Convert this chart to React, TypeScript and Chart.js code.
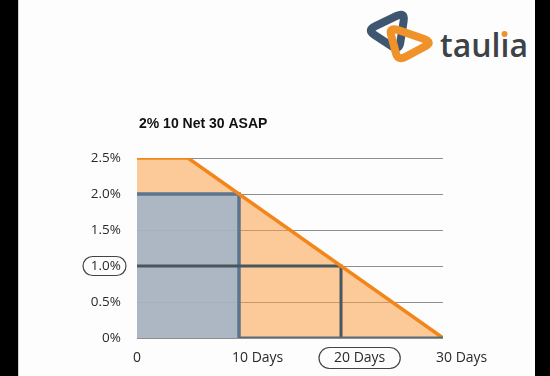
import React, { useEffect, useRef } from "react";
import { Chart, registerables } from "chart.js";

Chart.register(...registerables);

const chartTitle = "2% 10 Net 30 ASAP";
const discountDays = [0, 5, 30];
const discountRate = [2.5, 2.5, 0];
const earlyDays = [0, 10, 10];
const earlyRate = [2.0, 2.0, 0];
const midDays = [0, 20, 20];
const midRate = [1.0, 1.0, 0];
const baseDays = [10, 30];
const baseRate = [0, 0];
const xTickValues = [0, 10, 20, 30];
const xTickLabels = ["0", "10 Days", "20 Days", "30 Days"];
const yMax = 2.5;
const yStep = 0.5;
const highlightedY = 1.0;
const highlightedX = 20;

const pts = (xs: number[], ys: number[]) => xs.map((x, i) => ({ x, y: ys[i] }));

const FONT = "'Open Sans', 'DejaVu Sans', sans-serif";

function roundRect(ctx: CanvasRenderingContext2D, x: number, y: number, w: number, h: number, r: number) {
  ctx.beginPath();
  ctx.moveTo(x + r, y);
  ctx.lineTo(x + w - r, y);
  ctx.arc(x + w - r, y + r, r, -Math.PI / 2, 0);
  ctx.lineTo(x + w, y + h - r);
  ctx.arc(x + w - r, y + h - r, r, 0, Math.PI / 2);
  ctx.lineTo(x + r, y + h);
  ctx.arc(x + r, y + h - r, r, Math.PI / 2, Math.PI);
  ctx.lineTo(x, y + r);
  ctx.arc(x + r, y + r, r, Math.PI, Math.PI * 1.5);
  ctx.closePath();
}

function roundedTri(p: number[][], k: number) {
  const n = p.length;
  let d = "";
  for (let i = 0; i < n; i++) {
    const prev = p[(i + n - 1) % n];
    const cur = p[i];
    const next = p[(i + 1) % n];
    const a = [cur[0] + (prev[0] - cur[0]) * k, cur[1] + (prev[1] - cur[1]) * k];
    const b = [cur[0] + (next[0] - cur[0]) * k, cur[1] + (next[1] - cur[1]) * k];
    d += (i === 0 ? "M" : "L") + a[0] + "," + a[1] + " Q" + cur[0] + "," + cur[1] + " " + b[0] + "," + b[1] + " ";
  }
  return d + "Z";
}

const decorPlugin = {
  id: "decor",
  afterDraw(chart: any) {
    const ctx: CanvasRenderingContext2D = chart.ctx;
    const xs = chart.scales.x;
    const ys = chart.scales.y;
    ctx.save();
    ctx.fillStyle = "#111";
    ctx.font = "bold 14px 'Liberation Sans', Arial, sans-serif";
    ctx.textAlign = "left";
    ctx.textBaseline = "middle";
    ctx.fillText(chartTitle, chart.chartArea.left + 2, 124);
    ctx.font = `14px ${FONT}`;
    ctx.fillStyle = "#2a2a2a";
    const ly = chart.chartArea.bottom + 20;
    xTickValues.forEach((v, i) => {
      const px = xs.getPixelForValue(v);
      const label = xTickLabels[i];
      if (i === 0) {
        ctx.textAlign = "center";
        ctx.fillText(label, px, ly);
      } else {
        ctx.textAlign = "left";
        ctx.fillText(label, px - 7, ly);
      }
      if (v === highlightedX) {
        const w = ctx.measureText(label).width;
        ctx.strokeStyle = "#444";
        ctx.lineWidth = 1.2;
        roundRect(ctx, px - 7 - 15, ly - 10.5, w + 30, 21, 10.5);
        ctx.stroke();
      }
    });
    const hy = ys.getPixelForValue(highlightedY);
    ctx.strokeStyle = "#444";
    ctx.lineWidth = 1.2;
    roundRect(ctx, 83, hy - 9.5, 43, 19, 9.5);
    ctx.stroke();
    ctx.restore();
  },
};

export default function App() {
  const ref = useRef<HTMLCanvasElement | null>(null);
  useEffect(() => {
    document.body.style.margin = "0";
    const canvas = ref.current!;
    const chart = new Chart(canvas, {
      type: "line",
      data: {
        datasets: [
          {
            data: pts(baseDays, baseRate),
            borderColor: "#5b6c78",
            borderWidth: 3,
            pointRadius: 0,
            fill: false,
            order: 1,
          },
          {
            data: pts(discountDays, discountRate),
            borderColor: "#f2861b",
            borderWidth: 3.5,
            pointRadius: 0,
            fill: false,
            order: 2,
          },
          {
            data: pts(midDays, midRate),
            borderColor: "#48575c",
            borderWidth: 3,
            pointRadius: 0,
            fill: false,
            order: 3,
          },
          {
            data: pts(earlyDays, earlyRate),
            borderColor: "#5b7590",
            backgroundColor: "rgba(160,180,205,0.85)",
            borderWidth: 3.5,
            pointRadius: 0,
            fill: "origin",
            order: 4,
          },
          {
            data: pts(discountDays, discountRate),
            borderColor: "rgba(0,0,0,0)",
            backgroundColor: "rgba(250,160,70,0.55)",
            borderWidth: 0,
            pointRadius: 0,
            fill: "origin",
            order: 5,
          },
        ],
      },
      options: {
        animation: false,
        responsive: true,
        maintainAspectRatio: false,
        layout: { padding: { top: 158, right: 107, left: 0, bottom: 0 } },
        plugins: { legend: { display: false }, tooltip: { enabled: false }, title: { display: false } },
        scales: {
          x: {
            type: "linear",
            min: 0,
            max: 30,
            ticks: { display: false },
            grid: { display: false },
            border: { display: false },
            afterFit: (s: any) => {
              s.height = 38;
            },
          },
          y: {
            min: 0,
            max: yMax,
            ticks: {
              stepSize: yStep,
              padding: 16,
              color: "#2a2a2a",
              font: { family: FONT, size: 13.5 },
              callback: (v: any) => (Number(v) === 0 ? "0%" : Number(v).toFixed(1) + "%"),
            },
            grid: { color: "#8f8f8f", lineWidth: 1, drawTicks: false },
            border: { display: false },
            afterFit: (s: any) => {
              s.width = 137;
            },
          },
        },
      },
      plugins: [decorPlugin],
    } as any);
    return () => chart.destroy();
  }, []);

  return (
    <div style={{ position: "relative", width: 550, height: 376, background: "#000", overflow: "hidden" }}>
      <div style={{ position: "absolute", left: 18, top: 0, width: 516, height: 376, background: "#fdfdfd", borderLeft: "1px solid #ccc" }} />
      <svg width={550} height={376} style={{ position: "absolute", left: 0, top: 0 }}>
        <path d={roundedTri([[367, 30], [405, 12], [399, 51]], 0.22)} fill="none" stroke="#3f5670" strokeWidth={8} strokeLinejoin="round" />
        <path d={roundedTri([[389, 27], [433, 42], [398, 61]], 0.22)} fill="none" stroke="#f0922a" strokeWidth={8} strokeLinejoin="round" />
        <text x={440} y={57} fontFamily="'Open Sans', sans-serif" fontWeight={600} fontSize={32} fill="#3c4246">
          taulıa
        </text>
        <circle cx={504.5} cy={34} r={3} fill="#f0922a" />
      </svg>
      <div style={{ position: "absolute", left: 0, top: 0, width: 550, height: 376 }}>
        <canvas ref={ref} />
      </div>
    </div>
  );
}
